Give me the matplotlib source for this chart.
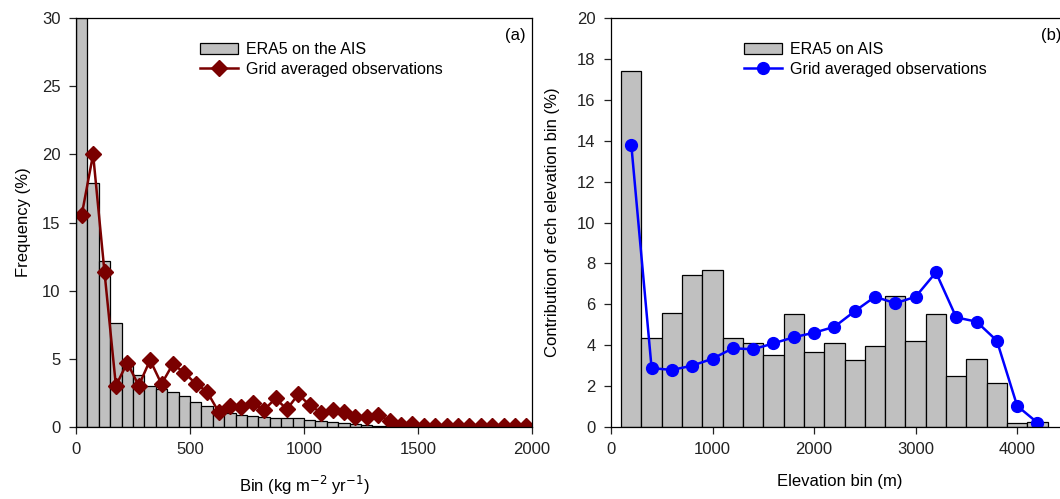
import matplotlib.pyplot as plt
import numpy as np

plt.rcParams['font.family'] = ['Liberation Sans', 'DejaVu Sans']

# (a) accumulation bins, 50 kg m-2 yr-1 wide
era5_bin_left = np.arange(0, 2000, 50)
era5_freq = [30.0, 17.9, 12.2, 7.65, 4.85, 3.8, 3.0, 2.8, 2.55, 2.3,
             1.8, 1.55, 1.1, 1.0, 0.88, 0.8, 0.7, 0.68, 0.63, 0.68,
             0.5, 0.42, 0.37, 0.27, 0.2, 0.15, 0.1, 0.07, 0.05, 0.03,
             0.02, 0.01, 0.0, 0.0, 0.0, 0.0, 0.0, 0.0, 0.0, 0.0]
obs_bin_center = np.arange(25, 2000, 50)
obs_freq = [15.55, 20.0, 11.35, 3.03, 4.72, 3.03, 4.91, 3.15, 4.62, 3.98,
            3.18, 2.59, 1.12, 1.54, 1.44, 1.74, 1.25, 2.1, 1.3, 2.4,
            1.6, 1.05, 1.25, 1.12, 0.7, 0.7, 0.85, 0.46, 0.15, 0.25,
            0.1, 0.05, 0.05, 0.05, 0.05, 0.05, 0.05, 0.05, 0.05, 0.05]

# (b) elevation bins, 200 m wide
elev_bin_center = np.arange(200, 4400, 200)
era5_elev = [17.4, 4.34, 5.59, 7.42, 7.68, 4.37, 4.09, 3.5, 5.53, 3.68,
             4.09, 3.26, 3.98, 6.42, 4.2, 5.51, 2.48, 3.33, 2.17, 0.18,
             0.23]
obs_elev = [13.8, 2.88, 2.79, 3.0, 3.34, 3.85, 3.8, 4.09, 4.39, 4.61,
            4.9, 5.66, 6.37, 6.05, 6.37, 7.56, 5.36, 5.15, 4.22, 1.03,
            0.21]

FS = 12
BAR_COLOR = '#c0c0c0'
fig = plt.figure(figsize=(10.6, 4.99), dpi=100)

ax1 = fig.add_axes([0.0717, 0.1443, 0.4302, 0.8196])
b1 = ax1.bar(era5_bin_left, era5_freq, width=50, align='edge',
             color=BAR_COLOR, edgecolor='black', linewidth=0.9,
             label='ERA5 on the AIS')
l1, = ax1.plot(obs_bin_center, obs_freq, color='#7a0000', linewidth=1.8,
               marker='D', markersize=8,
               label='Grid averaged observations')
ax1.set_xlim(0, 2000)
ax1.set_ylim(0, 30)
ax1.set_xticks([0, 500, 1000, 1500, 2000])
ax1.set_yticks([0, 5, 10, 15, 20, 25, 30])
ax1.set_xlabel('Bin (kg m$^{-2}$ yr$^{-1}$)', fontsize=FS, labelpad=12)
ax1.set_ylabel('Frequency (%)', fontsize=FS, labelpad=8)
ax1.text(0.985, 0.975, '(a)', transform=ax1.transAxes, ha='right', va='top',
         fontsize=FS)
ax1.legend([b1, l1], [b1.get_label(), l1.get_label()], loc='upper left',
           bbox_to_anchor=(0.25, 0.965), frameon=False, fontsize=FS - 0.5,
           handlelength=2.4, handletextpad=0.5, borderaxespad=0.2,
           labelspacing=0.3)

ax2 = fig.add_axes([0.5764, 0.1443, 0.4311, 0.8196])
b2 = ax2.bar(elev_bin_center, era5_elev, width=200, color=BAR_COLOR,
             edgecolor='black', linewidth=0.9, label='ERA5 on AIS')
l2, = ax2.plot(elev_bin_center, obs_elev, color='#0000ff', linewidth=1.8,
               marker='o', markersize=8.5,
               label='Grid averaged observations')
ax2.set_xlim(0, 4500)
ax2.set_ylim(0, 20)
ax2.set_xticks([0, 1000, 2000, 3000, 4000])
ax2.set_yticks(np.arange(0, 21, 2))
ax2.set_xlabel('Elevation bin (m)', fontsize=FS, labelpad=12)
ax2.set_ylabel('Contribution of ech elevation bin (%)', fontsize=FS,
               labelpad=12)
ax2.text(0.985, 0.975, '(b)', transform=ax2.transAxes, ha='right', va='top',
         fontsize=FS)
ax2.legend([b2, l2], [b2.get_label(), l2.get_label()], loc='upper left',
           bbox_to_anchor=(0.27, 0.965), frameon=False, fontsize=FS - 0.5,
           handlelength=2.4, handletextpad=0.5, borderaxespad=0.2,
           labelspacing=0.3)

for ax in (ax1, ax2):
    ax.tick_params(direction='out', length=5, width=0.9, labelsize=FS,
                   colors='#222222', pad=6)
    for s in ax.spines.values():
        s.set_linewidth(0.9)

fig.savefig('out.png', dpi=100)
